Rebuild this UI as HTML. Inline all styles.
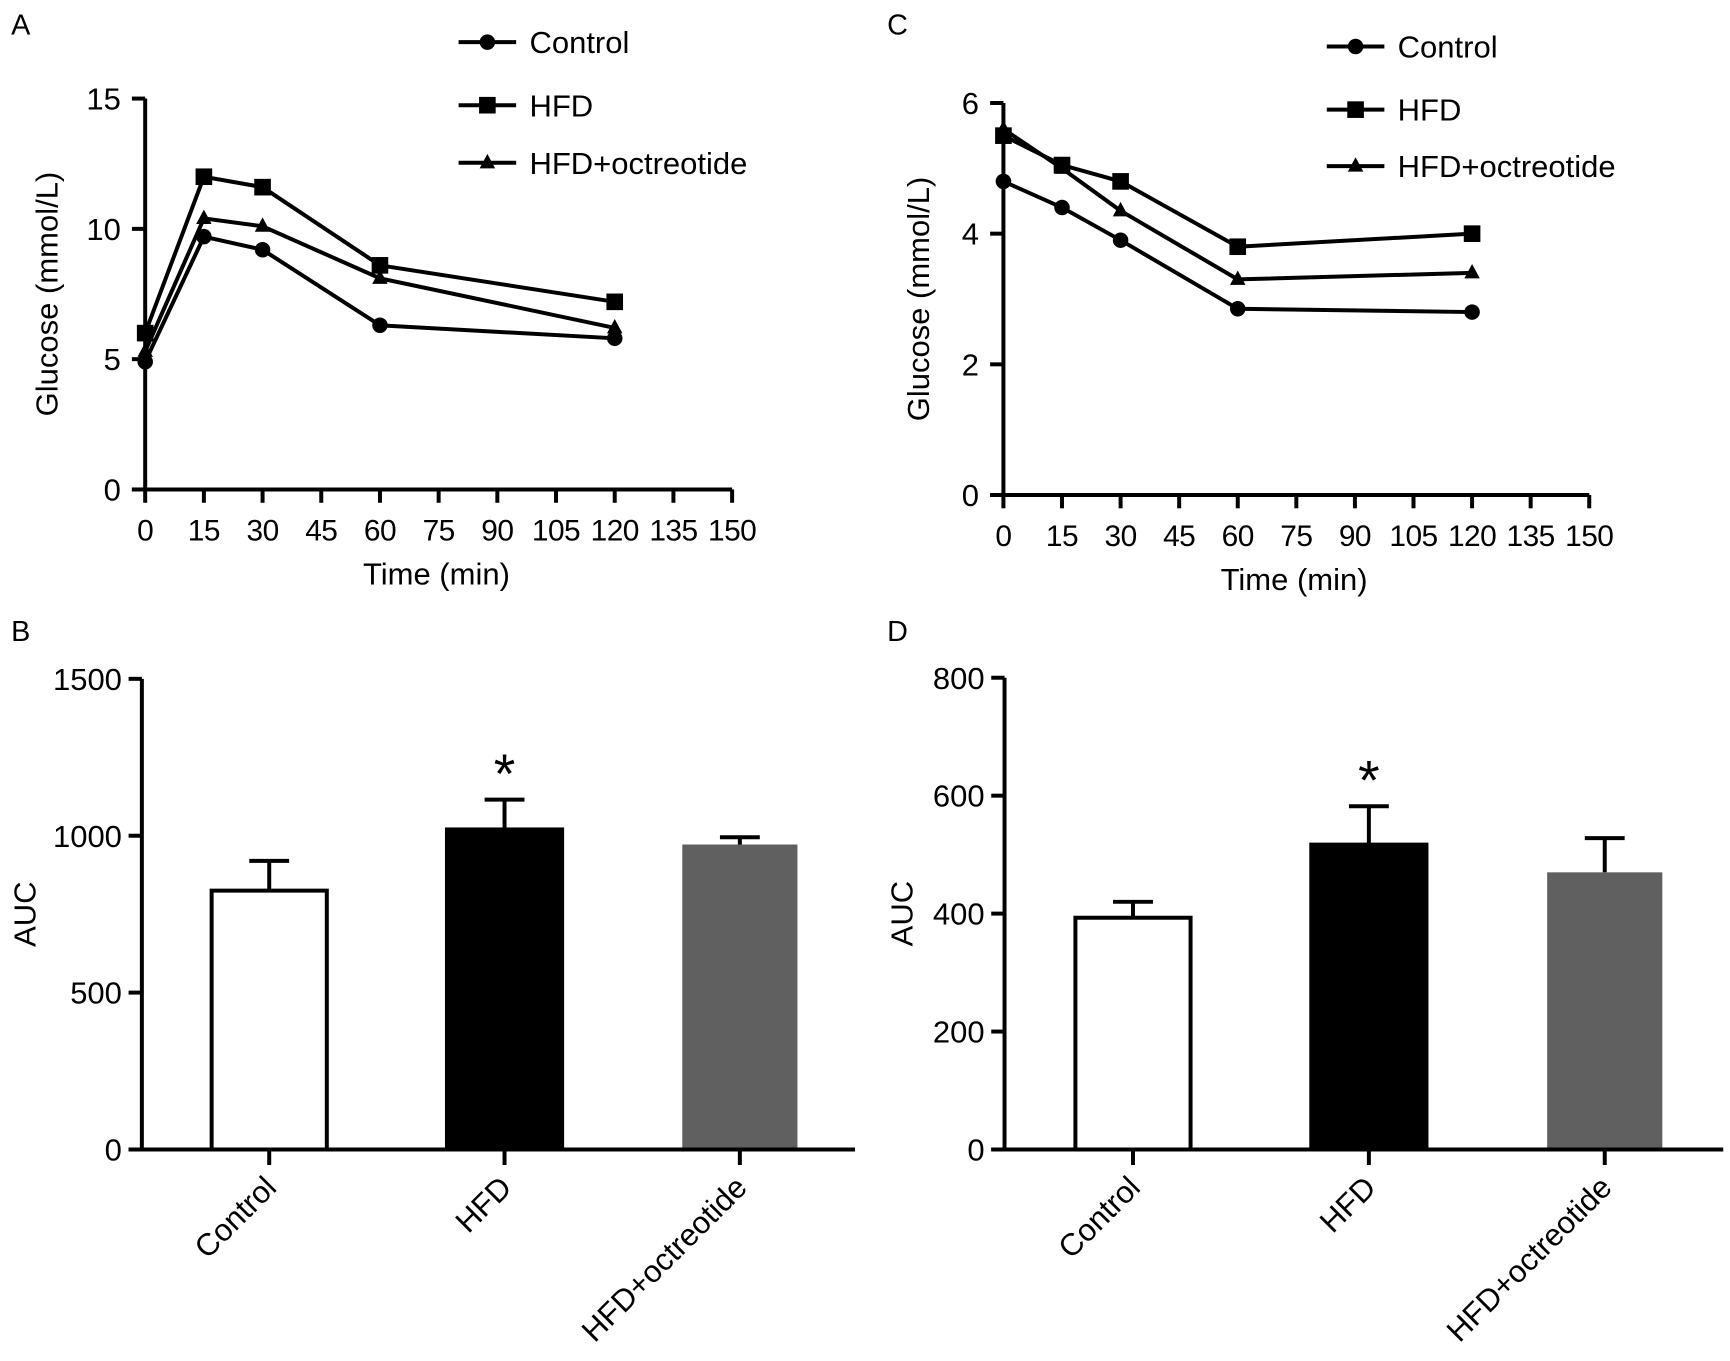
<!DOCTYPE html>
<html><head><meta charset="utf-8"><style>
html,body{margin:0;padding:0;background:#fff;}
svg{display:block;font-family:"Liberation Sans",Arial,sans-serif;}
</style></head><body>
<svg id="fig" width="1730" height="1361" viewBox="0 0 1562 1229" xmlns="http://www.w3.org/2000/svg"></svg>
<script>
const timeCats = [0, 15, 30, 60, 120];
const xTicks = [0, 15, 30, 45, 60, 75, 90, 105, 120, 135, 150];
const seriesNames = ["Control", "HFD", "HFD+octreotide"];
const aControl = [4.9, 9.7, 9.2, 6.3, 5.8];
const aHFD = [6.0, 12.0, 11.6, 8.6, 7.2];
const aOct = [5.3, 10.4, 10.1, 8.1, 6.2];
const aYTicks = [0, 5, 10, 15];
const cControl = [4.8, 4.4, 3.9, 2.85, 2.8];
const cHFD = [5.5, 5.05, 4.8, 3.8, 4.0];
const cOct = [5.6, 5.0, 4.35, 3.3, 3.4];
const cYTicks = [0, 2, 4, 6];
const barCats = ["Control", "HFD", "HFD+octreotide"];
const bValues = [825, 1020, 972];
const bErrors = [95, 95, 23];
const bYTicks = [0, 500, 1000, 1500];
const dValues = [393, 517, 470];
const dErrors = [27, 65, 58];
const dYTicks = [0, 200, 400, 600, 800];
const barStars = ["", "*", ""];

const NS = "http://www.w3.org/2000/svg";
const svg = document.getElementById("fig");
function mk(tag, attrs, parent, text) {
  const e = document.createElementNS(NS, tag);
  for (const k in attrs) e.setAttribute(k, attrs[k]);
  if (text !== undefined) e.textContent = text;
  (parent || svg).appendChild(e);
  return e;
}
const SW = 3.6;

function marker(g, kind, x, y) {
  let m;
  if (kind === 0) m = mk("circle", {cx: x, cy: y, r: 7, fill: "#000"}, g);
  else if (kind === 1) m = mk("rect", {x: x - 7.5, y: y - 7.5, width: 15, height: 15, fill: "#000"}, g);
  else m = mk("polygon", {points: `${x},${y - 8} ${x + 7},${y + 5} ${x - 7},${y + 5}`, fill: "#000"}, g);
  
  
}

function lineChart(opt) {
  const g = mk("g", {}, svg);
  
  
  const xs = v => opt.x0 + (v / 150) * (opt.x1 - opt.x0);
  const ys = v => opt.y0 - (v / opt.yMax) * (opt.y0 - opt.y1);
  const lbl = mk("text", {x: opt.lx, y: opt.ly, "font-size": 26}, g, opt.letter);
   
  const ya = mk("line", {x1: opt.x0, y1: opt.y0, x2: opt.x0, y2: ys(opt.yMax), stroke: "#000", "stroke-width": SW}, g);
   
  opt.yTicks.forEach(t => {
    mk("line", {x1: opt.x0 - 12, y1: ys(t), x2: opt.x0, y2: ys(t), stroke: "#000", "stroke-width": SW}, g);
    const tl = mk("text", {x: opt.x0 - 22, y: ys(t) + 10, "font-size": 28, "text-anchor": "end"}, g, t);
     
  });
  const xa = mk("line", {x1: opt.x0 - 12, y1: opt.y0, x2: xs(150), y2: opt.y0, stroke: "#000", "stroke-width": SW}, g);
   
  xTicks.forEach(t => {
    mk("line", {x1: xs(t), y1: opt.y0, x2: xs(t), y2: opt.y0 + 12, stroke: "#000", "stroke-width": SW}, g);
    const tl = mk("text", {x: xs(t), y: opt.y0 + 46, "font-size": 27, "text-anchor": "middle", "letter-spacing": "-0.5"}, g, t);
     
  });
  const xt = mk("text", {x: (opt.x0 + xs(150)) / 2 - 2, y: opt.y0 + 86, "font-size": 28, "text-anchor": "middle"}, g, "Time (min)");
   
  const cy = (opt.y0 + ys(opt.yMax)) / 2;
  const yt = mk("text", {x: 0, y: 0, "font-size": 28, "text-anchor": "middle", transform: `translate(${opt.ytx},${cy}) rotate(-90)`}, g, "Glucose (mmol/L)");
   
  opt.series.forEach((s, i) => {
    const pts = s.map((v, j) => `${xs(timeCats[j])},${ys(v)}`).join(" ");
    const pl = mk("polyline", {points: pts, fill: "none", stroke: "#000", "stroke-width": SW}, g);
    
    
    s.forEach((v, j) => marker(g, i, xs(timeCats[j]), ys(v)));
    const ly = opt.legY[i];
    const lg = mk("g", {}, g);
     
    mk("line", {x1: opt.legX, y1: ly, x2: opt.legX + 52, y2: ly, stroke: "#000", "stroke-width": SW}, lg);
    marker(lg, i, opt.legX + 26, ly);
    mk("text", {x: opt.legX + 64, y: ly + 10, "font-size": 28}, lg, seriesNames[i]);
  });
}

lineChart({name: "panel-a-line-chart", letter: "A", lx: 10, ly: 31, x0: 131, x1: 661, y0: 442, y1: 89, yMax: 15, yTicks: aYTicks, ytx: 52,
  series: [aControl, aHFD, aOct], legX: 414, legY: [38, 95, 147]});
lineChart({name: "panel-c-line-chart", letter: "C", lx: 801, ly: 31, x0: 906, x1: 1435, y0: 447, y1: 93, yMax: 6, yTicks: cYTicks, ytx: 839,
  series: [cControl, cHFD, cOct], legX: 1198, legY: [42, 99, 150]});

function barChart(opt) {
  const g = mk("g", {}, svg);
  
  
  const ys = v => opt.y0 - (v / opt.yMax) * (opt.y0 - opt.y1);
  const lbl = mk("text", {x: opt.lx, y: opt.ly, "font-size": 26}, g, opt.letter);
   
  const fills = ["#fff", "#000", "#606060"];
  opt.values.forEach((v, i) => {
    const cx = opt.cx0 + i * opt.step;
    const top = ys(v + opt.errors[i]);
    const eb = mk("g", {}, g);
     
    mk("line", {x1: cx, y1: ys(v), x2: cx, y2: top, stroke: "#000", "stroke-width": SW}, eb);
    mk("line", {x1: cx - 18, y1: top, x2: cx + 18, y2: top, stroke: "#000", "stroke-width": SW}, eb);
    const r = mk("rect", {x: cx - 52, y: ys(v), width: 104, height: opt.y0 - ys(v), fill: fills[i],
      stroke: i === 2 ? "none" : "#000", "stroke-width": SW}, g);
    
    
    if (barStars[i]) {
      const st = mk("text", {x: cx, y: top - 6, "font-size": 50, "text-anchor": "middle"}, g, barStars[i]);
       
    }
    mk("line", {x1: cx, y1: opt.y0, x2: cx, y2: opt.y0 + 14, stroke: "#000", "stroke-width": SW}, g);
    const cl = mk("text", {x: 0, y: 0, "font-size": 28, "text-anchor": "end", transform: `translate(${cx + 8},${opt.y0 + 36}) rotate(-45)`}, g, barCats[i]);
     
  });
  const ya = mk("line", {x1: opt.x0, y1: opt.y0, x2: opt.x0, y2: opt.y1, stroke: "#000", "stroke-width": SW}, g);
   
  opt.yTicks.forEach(t => {
    mk("line", {x1: opt.x0 - 12, y1: ys(t), x2: opt.x0, y2: ys(t), stroke: "#000", "stroke-width": SW}, g);
    const tl = mk("text", {x: opt.x0 - 18, y: ys(t) + 10, "font-size": 28, "text-anchor": "end"}, g, t);
     
  });
  const xa = mk("line", {x1: opt.x0 - 12, y1: opt.y0, x2: opt.xEnd, y2: opt.y0, stroke: "#000", "stroke-width": SW}, g);
   
  const yt = mk("text", {x: 0, y: 0, "font-size": 28, "text-anchor": "middle", transform: `translate(${opt.ytx},${(opt.y0 + opt.y1) / 2}) rotate(-90)`}, g, "AUC");
   
}

barChart({name: "panel-b-bar-chart", letter: "B", lx: 10, ly: 579, x0: 128, y0: 1038, y1: 613, yMax: 1500, yTicks: bYTicks,
  values: bValues, errors: bErrors, cx0: 243, step: 212.5, xEnd: 772, ytx: 32});
barChart({name: "panel-d-bar-chart", letter: "D", lx: 801, ly: 579, x0: 907, y0: 1038, y1: 612, yMax: 800, yTicks: dYTicks,
  values: dValues, errors: dErrors, cx0: 1023, step: 213, xEnd: 1556, ytx: 824});
</script>
</body></html>
